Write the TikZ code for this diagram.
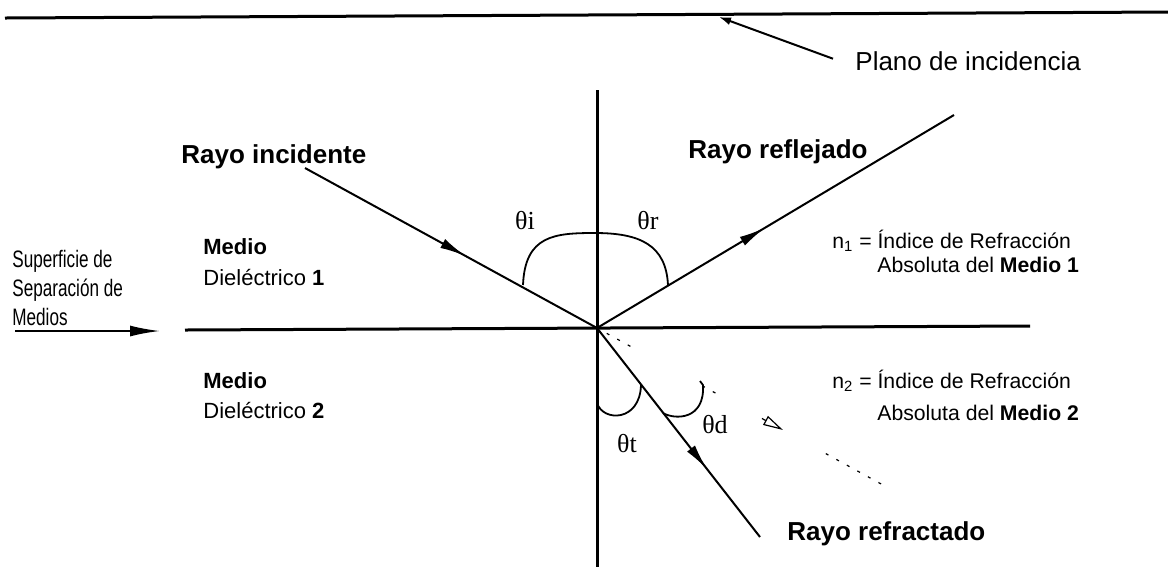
\documentclass[tikz,border=0pt]{standalone}
\usepackage{fontspec}
\setmainfont{Liberation Sans}
\newfontfamily\narrowsans[FakeStretch=0.72]{Liberation Sans}
\newfontfamily\greekserif{Liberation Serif}
\usetikzlibrary{arrows.meta,calc,decorations.markings}
\tikzset{
  interface/.style={line width=1.5pt},
  ray/.style={line width=1pt},
  midarrow/.style={postaction={decorate},
    decoration={markings, mark=at position #1 with {\arrow{Latex[length=13pt,width=5pt]}}}},
  virtualray/.style={line width=0.6pt, dash pattern=on 1.5pt off 4.5pt},
  anglearc/.style={line width=0.9pt},
  raylabel/.style={anchor=base west, inner sep=0pt, font=\fontsize{13}{15}\selectfont\bfseries},
  mediumlabel/.style={anchor=base west, inner sep=0pt, font=\fontsize{11}{13}\selectfont},
  indexlabel/.style={anchor=base west, inner sep=0pt, font=\fontsize{10.6}{13}\selectfont},
  sidenote/.style={anchor=base west, inner sep=0pt, font=\narrowsans\fontsize{11.9}{14}\selectfont},
  anglename/.style={anchor=base, inner sep=0pt, font=\greekserif\fontsize{13}{15}\selectfont}
}
\begin{document}
\begin{tikzpicture}[x=0.5pt, y=-0.5pt]
  \useasboundingbox (0,0) rectangle (1168,570);

  \coordinate (O) at (597,328);
  \coordinate (incStart) at (305,168);
  \coordinate (reflEnd) at (954,115);
  \coordinate (refrEnd) at (760,537);
  \coordinate (normTop) at (597,90);
  \coordinate (normBot) at (597,567);
  \coordinate (surfL) at (185,330);
  \coordinate (surfR) at (1030,326);
  \coordinate (planeL) at (5,18);
  \coordinate (planeR) at (1168,12);
  \coordinate (planeHit) at (719,17);
  \coordinate (ghostTip) at (783,430);
  \coordinate (ghostEnd) at (883,485);
  \coordinate (sepTail) at (15,331);
  \coordinate (sepTip) at (160,331);

  \draw[interface] (planeL) -- (planeR);
  \draw[interface] (surfL) -- (surfR);
  \draw[interface] (normTop) -- (normBot);

  \draw[ray, midarrow=0.55] (incStart) -- (O);
  \draw[ray, midarrow=0.47] (O) -- (reflEnd);
  \draw[ray, midarrow=0.675] (O) -- (refrEnd);
  \draw[virtualray] ($(O)!0.034!(ghostEnd)$) -- ($(O)!0.141!(ghostEnd)$);
  \draw[virtualray] ($(O)!0.368!(ghostEnd)$) -- ($(O)!0.43!(ghostEnd)$);
  \draw[virtualray] ($(O)!0.80!(ghostEnd)$) -- (ghostEnd);
  \draw[line width=0.6pt, -{Triangle[open,length=10pt,width=5pt]}] ($(ghostTip)!12pt!(O)$) -- (ghostTip);

  \draw[anglearc] (523,285) .. controls (525,235) and (555,233) .. (595,233) .. controls (640,233) and (666,245) .. (668,285);
  \draw[anglearc] (597,403) .. controls (603,422) and (640,422) .. (641,385);
  \draw[anglearc] (663,413) .. controls (675,420) and (705,420) .. (703,385) -- (700,381);

  \node[anglename] (thetaI) at (525,229) {θi};
  \node[anglename] (thetaR) at (648,229) {θr};
  \node[anglename] (thetaT) at (627,452) {θt};
  \node[anglename] (thetaD) at (715,433) {θd};

  \node[raylabel] (incident) at (181,163) {Rayo incidente};
  \node[raylabel] (reflected) at (688,158) {Rayo reflejado};
  \node[raylabel] (refracted) at (787,540) {Rayo refractado};

  \node[anchor=base west, inner sep=0pt, font=\fontsize{13}{15}\selectfont] (plano) at (855,70) {Plano de incidencia};
  \draw[ray, -{Latex[length=6pt,width=4pt]}] ([xshift=-11pt,yshift=1pt]plano.west) -- (planeHit);

  \node[sidenote] (sep1) at (12,267) {Superficie de};
  \node[sidenote] (sep2) at (12,296) {Separación de};
  \node[sidenote] (sep3) at (12,325) {Medios};
  \draw[ray, -{Latex[length=15pt,width=5.5pt]}] (sepTail) -- (sepTip);

  \node[mediumlabel] (med1a) at (203,254) {\bfseries Medio};
  \node[mediumlabel] (med1b) at (203,285) {Dieléctrico \textbf{1}};
  \node[mediumlabel] (med2a) at (203,388) {\bfseries Medio};
  \node[mediumlabel] (med2b) at (203,418) {Dieléctrico \textbf{2}};

  \node[indexlabel] (n1a) at (832,248) {n\textsubscript{1} = Índice de Refracción};
  \node[indexlabel] (n1b) at (877,272) {Absoluta del \textbf{Medio 1}};
  \node[indexlabel] (n2a) at (832,388) {n\textsubscript{2} = Índice de Refracción};
  \node[indexlabel] (n2b) at (877,420) {Absoluta del \textbf{Medio 2}};
\end{tikzpicture}
\end{document}
